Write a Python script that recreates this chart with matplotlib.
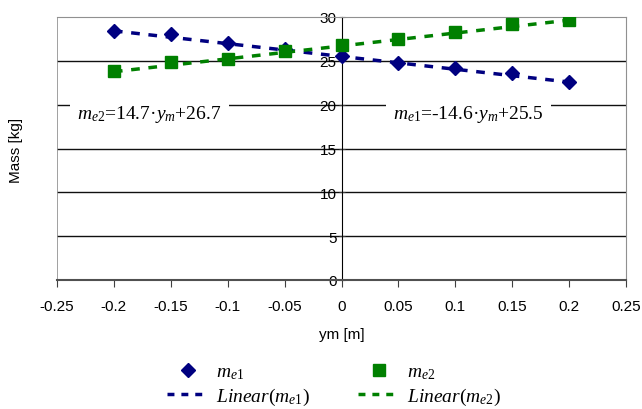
import matplotlib

matplotlib.use('Agg')
import matplotlib.pyplot as plt
from matplotlib.lines import Line2D

plt.rcParams['font.family'] = 'Liberation Sans'
plt.rcParams['mathtext.fontset'] = 'custom'
plt.rcParams['mathtext.rm'] = 'Liberation Serif'
plt.rcParams['mathtext.it'] = 'Liberation Serif:italic'

# data
ym = [-0.2, -0.15, -0.1, -0.05, 0.0, 0.05, 0.1, 0.15, 0.2]
me1 = [28.4, 28.05, 27.0, 26.3, 25.5, 24.7, 24.2, 23.6, 22.6]
me2 = [23.8, 24.9, 25.2, 26.1, 26.8, 27.5, 28.3, 29.2, 29.7]

# trend line coefficients (slope, intercept)
fit1 = (-14.6, 25.5)
fit2 = (14.7, 26.7)

blue = '#000080'
green = '#008000'

fig = plt.figure(figsize=(6.42, 4.10), dpi=100)
ax = fig.add_axes([57 / 642, 1 - 281 / 410, (626 - 57) / 642, (281 - 18) / 410])

ax.set_xlim(-0.25, 0.25)
ax.set_ylim(0, 30)

# horizontal gridlines
for yv in [5, 10, 15, 20, 25]:
    ax.axhline(yv, color='#101010', lw=1, zorder=1)

# frame
ax.axvline(-0.25, color='#909090', lw=1.2, zorder=1)
ax.spines['top'].set_color('#909090')
ax.spines['right'].set_color('#909090')
ax.spines['left'].set_position(('data', 0))
ax.spines['bottom'].set_color('#505050')
ax.spines['bottom'].set_linewidth(1.5)

# trend lines
xs = [ym[0], ym[-1]]
ax.plot(xs, [fit1[0] * x + fit1[1] for x in xs], color=blue, lw=2.5,
        dashes=(2.5, 2.5), zorder=3)
ax.plot(xs, [fit2[0] * x + fit2[1] for x in xs], color=green, lw=2.5,
        dashes=(2.5, 2.5), zorder=3)

# points
ax.plot(ym, me1, linestyle='none', marker='D', markersize=7.5, color=blue, zorder=4)
ax.plot(ym, me2, linestyle='none', marker='s', markersize=8.5, color=green, zorder=4)

ax.set_xticks([-0.25, -0.2, -0.15, -0.1, -0.05, 0, 0.05, 0.1, 0.15, 0.2, 0.25])
ax.set_xticklabels(['-0.25', '-0.2', '-0.15', '-0.1', '-0.05', '0', '0.05', '0.1',
                    '0.15', '0.2', '0.25'])
ax.set_yticks([0, 5, 10, 15, 20, 25, 30])
ax.tick_params(axis='both', labelsize=11, color='#404040')
ax.tick_params(axis='x', length=5, pad=9)
ax.tick_params(axis='y', direction='inout', length=5, pad=1)

ax.set_xlabel('ym [m]', fontsize=11, labelpad=10)
fig.text(16 / 642, 1 - 150 / 410, 'Mass [kg]', rotation=90, fontsize=11,
         ha='center', va='center')

# equations
box = dict(facecolor='white', edgecolor='none', pad=5)
ax.text(-0.2324, 18.5, r'$m_{\mathit{e2}}$=14.7·$y_m$+26.7', fontsize=14,
        family='Liberation Serif', ha='left', va='baseline', bbox=box, zorder=2)
ax.text(0.0456, 18.5, r'$m_{\mathit{e1}}$=-14.6·$y_m$+25.5', fontsize=14,
        family='Liberation Serif', ha='left', va='baseline', bbox=box, zorder=2)

# legend
handles = [
    Line2D([], [], linestyle='none', marker='D', markersize=7.5, color=blue),
    Line2D([], [], color=blue, lw=2.5, dashes=(2, 2)),
    Line2D([], [], linestyle='none', marker='s', markersize=8.5, color=green),
    Line2D([], [], color=green, lw=2.5, dashes=(2, 2)),
]
labels = [r'$m_{\mathit{e1}}$', r'$\mathit{Linear(m_{e1})}$',
          r'$m_{\mathit{e2}}$', r'$\mathit{Linear(m_{e2})}$']
leg = fig.legend(handles, labels, ncol=2, loc='center',
                 bbox_to_anchor=(334 / 642, 1 - 386 / 410), frameon=False,
                 fontsize=14, columnspacing=2.5, handlelength=2.1,
                 labelspacing=0.25, handletextpad=0.4)

fig.savefig('out.png', dpi=100)
